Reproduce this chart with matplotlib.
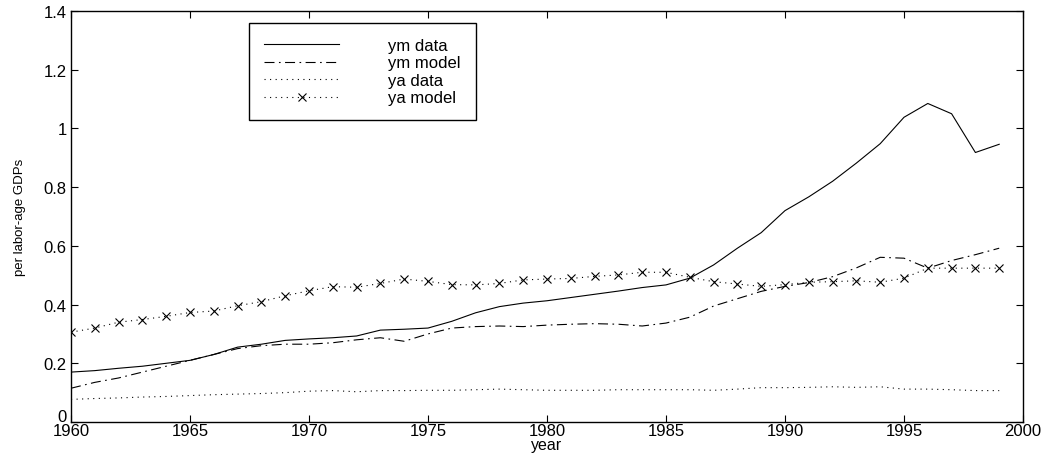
import numpy as np
import matplotlib
matplotlib.use('Agg')
import matplotlib.pyplot as plt
from matplotlib.transforms import ScaledTranslation

plt.rcParams['font.family'] = ['Liberation Sans', 'DejaVu Sans']

years = np.arange(1960, 2000)

ym_data = [0.170, 0.175, 0.183, 0.190, 0.200, 0.210, 0.230, 0.255, 0.265, 0.278,
           0.283, 0.287, 0.293, 0.313, 0.316, 0.320, 0.343, 0.372, 0.393, 0.405,
           0.413, 0.424, 0.435, 0.446, 0.458, 0.467, 0.490, 0.535, 0.592, 0.645,
           0.720, 0.767, 0.820, 0.882, 0.948, 1.038, 1.085, 1.050, 0.918, 0.946]

ym_model = [0.115, 0.135, 0.150, 0.170, 0.190, 0.210, 0.230, 0.250, 0.260, 0.265,
            0.265, 0.270, 0.280, 0.287, 0.275, 0.300, 0.320, 0.325, 0.327, 0.325,
            0.330, 0.333, 0.335, 0.333, 0.327, 0.337, 0.357, 0.395, 0.420, 0.445,
            0.462, 0.475, 0.495, 0.525, 0.561, 0.558, 0.524, 0.550, 0.570, 0.592]

ya_data = [0.077, 0.080, 0.082, 0.085, 0.087, 0.090, 0.093, 0.095, 0.097, 0.100,
           0.105, 0.107, 0.103, 0.107, 0.107, 0.108, 0.108, 0.110, 0.112, 0.110,
           0.108, 0.108, 0.108, 0.110, 0.110, 0.110, 0.110, 0.108, 0.112, 0.117,
           0.117, 0.118, 0.120, 0.118, 0.120, 0.112, 0.112, 0.110, 0.107, 0.107]

ya_model = [0.306, 0.320, 0.340, 0.349, 0.360, 0.373, 0.378, 0.396, 0.410, 0.430,
            0.447, 0.461, 0.459, 0.472, 0.487, 0.479, 0.468, 0.467, 0.472, 0.484,
            0.487, 0.489, 0.496, 0.501, 0.510, 0.510, 0.493, 0.478, 0.470, 0.462,
            0.468, 0.476, 0.478, 0.481, 0.476, 0.490, 0.524, 0.524, 0.524, 0.524]

fig = plt.figure(figsize=(10.5, 4.6), dpi=100)
ax = fig.add_axes([71/1050, 1 - 423/460, 952/1050, 411/460])

lw = 0.8
ax.plot(years, ym_data, '-', color='black', lw=lw, label='ym data')
ax.plot(years, ym_model, color='black', lw=lw, dashes=(9, 4, 1.5, 4), label='ym model')
ax.plot(years, ya_data, color='black', lw=lw, dashes=(1, 4), label='ya data')
ax.plot(years, ya_model, color='black', lw=lw, dashes=(1, 4), marker='x',
        ms=6, mew=0.8, label='ya model')

ax.set_xlim(1960, 2000)
ax.set_ylim(0, 1.4)
ax.set_xticks(np.arange(1960, 2001, 5))
ax.set_yticks([0, 0.2, 0.4, 0.6, 0.8, 1, 1.2, 1.4])
ax.set_yticklabels(['0', '0.2', '0.4', '0.6', '0.8', '1', '1.2', '1.4'])
ax.tick_params(direction='in', top=True, right=True, length=5, width=0.8,
               labelsize=12, pad=3)
ax.tick_params(axis='x', pad=1)
# nudge the "0" label up so it clears "1960"
lab0 = ax.get_yticklabels()[0]
lab0.set_transform(lab0.get_transform() + ScaledTranslation(0, 5/72, fig.dpi_scale_trans))
for s in ax.spines.values():
    s.set_linewidth(1.0)

ax.set_xlabel('year', fontsize=11.5, labelpad=-1)
ax.set_ylabel('per labor-age GDPs', fontsize=9.5, labelpad=13)

leg = ax.legend(loc='upper left', bbox_to_anchor=(0.187, 0.971), borderaxespad=0,
                fontsize=12, handlelength=4.5, handletextpad=2.95, labelspacing=0.15,
                borderpad=0.9, fancybox=False, framealpha=1, edgecolor='black',
                markerscale=1, numpoints=1)
leg.get_frame().set_linewidth(1.0)

fig.savefig('out.png', dpi=100)
